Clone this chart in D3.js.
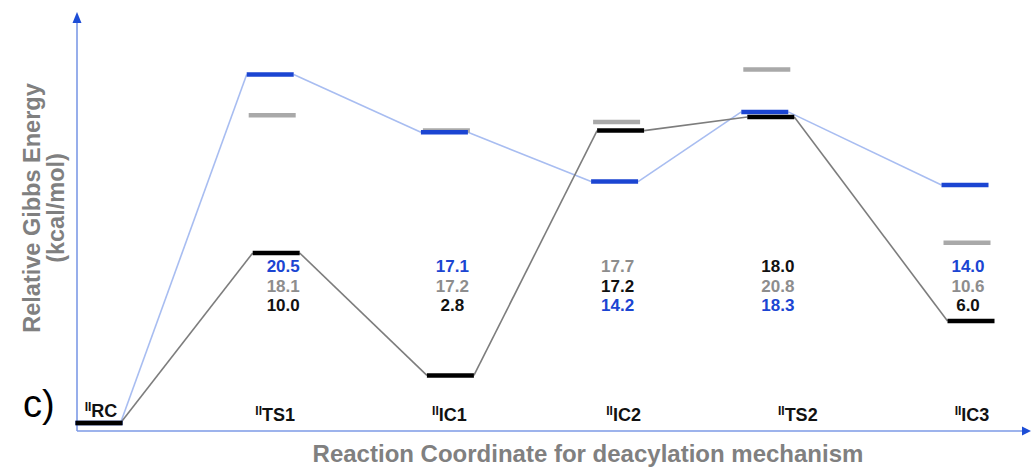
<!DOCTYPE html>
<html>
<head>
<meta charset="utf-8">
<script src="https://cdn.jsdelivr.net/npm/d3@7"></script>
<style>
  html, body { margin: 0; padding: 0; background: #ffffff; }
  svg { display: block; }
  text { font-family: "Liberation Sans", Arial, sans-serif; }
</style>
</head>
<body>
<svg id="chart" width="1031" height="468"></svg>
<script>
// Stationary points along the deacylation pathway
const states = ["RC", "TS1", "IC1", "IC2", "TS2", "IC3"];

// Relative Gibbs energies (kcal/mol) for the three computed profiles
const energyBlack = [0, 10.0, 2.8, 17.2, 18.0, 6.0];
const energyGrey  = [0, 18.1, 17.2, 17.7, 20.8, 10.6];
const energyBlue  = [0, 20.5, 17.1, 14.2, 18.3, 14.0];

// Stacking order of the value labels under each state (top to bottom)
const labelOrder = [
  [],
  ["blue", "grey", "black"],
  ["blue", "grey", "black"],
  ["grey", "black", "blue"],
  ["black", "grey", "blue"],
  ["blue", "grey", "black"]
];

const W = 1031, H = 468;
const svg = d3.select("#chart");

const series = {
  grey:  { values: energyGrey,  bar: "#a9a9a9", text: "#8d8d8d", link: null,      dx: 0 },
  blue:  { values: energyBlue,  bar: "#1b45d2", text: "#1b45d2", link: "#a8bdf1", dx: -2 },
  black: { values: energyBlack, bar: "#000000", text: "#111111", link: "#7d7d7d", dx: 4 }
};

const x = d3.scalePoint().domain(states).range([101, 972]);
const y = d3.scaleLinear().domain([0, 24]).range([423, 15]);

// small horizontal adjustments of the level bars and value labels per state
const barNudge = { RC: -2, TS1: -3, IC1: -3, IC2: -7, TS2: -31, IC3: -5 };
const valNudge = { RC: 0, TS1: 8, IC1: 3, IC2: -6, TS2: -20, IC3: -4 };
const barW = 47;
const cx = s => x(s) + barNudge[s];

// axes
const axisColor = "#7d9ae6";
const arrowColor = "#1d4dd6";
const x0 = 77, yAxisBase = 431;
svg.append("line").attr("x1", x0).attr("x2", x0).attr("y1", yAxisBase).attr("y2", 20)
  .attr("stroke", axisColor).attr("stroke-width", 1.6);
svg.append("line").attr("x1", x0).attr("x2", 1024).attr("y1", yAxisBase).attr("y2", yAxisBase)
  .attr("stroke", axisColor).attr("stroke-width", 1.6);
svg.append("path").attr("d", `M${x0},12 L${x0 - 4.5},23 L${x0 + 4.5},23 Z`).attr("fill", arrowColor);
svg.append("path").attr("d", `M1031,${yAxisBase} L1022,${yAxisBase - 4.5} L1022,${yAxisBase + 4.5} Z`).attr("fill", arrowColor);

// connectors between successive levels
["blue", "black"].forEach(key => {
  const s = series[key];
  const segs = [];
  for (let i = 0; i < states.length - 1; i++) {
    const a = states[i], b = states[i + 1];
    const ax = i === 0 ? cx(a) + barW / 2 - 2 : cx(a) + s.dx + barW / 2;
    segs.push({
      x1: ax, y1: y(s.values[i]),
      x2: cx(b) + s.dx - barW / 2, y2: y(s.values[i + 1])
    });
  }
  svg.append("g").selectAll("line").data(segs).join("line")
    .attr("x1", d => d.x1).attr("y1", d => d.y1)
    .attr("x2", d => d.x2).attr("y2", d => d.y2)
    .attr("stroke", s.link).attr("stroke-width", 1.6);
});

// energy levels
["grey", "blue", "black"].forEach(key => {
  const s = series[key];
  svg.append("g").selectAll("line").data(states).join("line")
    .attr("x1", (d, i) => (i === 0 ? cx(d) : cx(d) + s.dx) - barW / 2)
    .attr("x2", (d, i) => (i === 0 ? cx(d) : cx(d) + s.dx) + barW / 2)
    .attr("y1", (d, i) => y(s.values[i]))
    .attr("y2", (d, i) => y(s.values[i]))
    .attr("stroke", s.bar).attr("stroke-width", 4.5);
});

// value labels
const rowY = [272, 291.5, 311];
states.forEach((st, i) => {
  labelOrder[i].forEach((key, r) => {
    svg.append("text")
      .attr("x", x(st) + valNudge[st]).attr("y", rowY[r])
      .attr("text-anchor", "middle")
      .attr("font-size", 17).attr("font-weight", "bold")
      .attr("fill", series[key].text)
      .text(series[key].values[i].toFixed(1));
  });
});

// state names with the "II" oxidation-state prefix
states.forEach((st, i) => {
  const t = svg.append("text")
    .attr("x", x(st)).attr("y", i === 0 ? 417 : 421)
    .attr("text-anchor", "middle")
    .attr("font-weight", "bold").attr("fill", "#111");
  t.append("tspan").attr("font-size", 12).attr("dy", -6).text("II");
  t.append("tspan").attr("font-size", 18).attr("dy", 6).text(st);
});

// panel letter
svg.append("text").attr("x", 23).attr("y", 417)
  .attr("font-size", 38).attr("fill", "#000").text("c)");

// axis titles
svg.append("text").attr("x", 588).attr("y", 462)
  .attr("text-anchor", "middle").attr("font-size", 24).attr("font-weight", "bold")
  .attr("fill", "#808080").text("Reaction Coordinate for deacylation mechanism");

const yt = svg.append("text").attr("transform", "translate(0,208) rotate(-90)")
  .attr("text-anchor", "middle").attr("font-size", 23.5).attr("font-weight", "bold")
  .attr("fill", "#808080");
yt.append("tspan").attr("x", 0).attr("y", 40).text("Relative Gibbs Energy");
yt.append("tspan").attr("x", 0).attr("y", 64).text("(kcal/mol)");
</script>
</body>
</html>
